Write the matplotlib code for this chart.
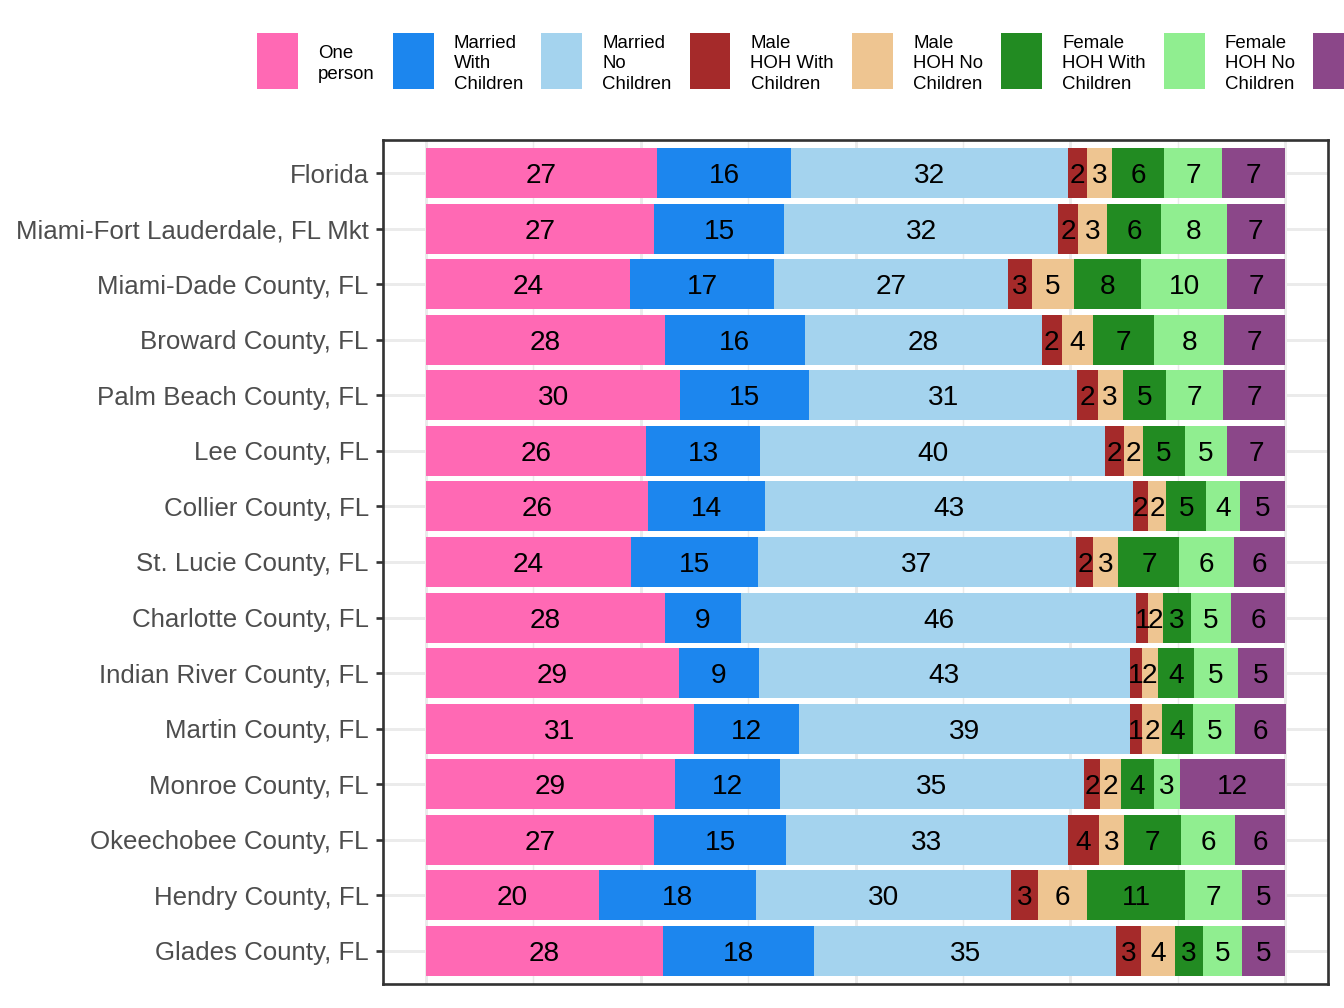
import matplotlib
matplotlib.use("Agg")
import matplotlib.pyplot as plt
from matplotlib.patches import Rectangle
import numpy as np

plt.rcParams['font.family'] = ['Liberation Sans', 'DejaVu Sans']

# areas, top to bottom
areas = ["Florida", "Miami-Fort Lauderdale, FL Mkt", "Miami-Dade County, FL",
         "Broward County, FL", "Palm Beach County, FL", "Lee County, FL",
         "Collier County, FL", "St. Lucie County, FL", "Charlotte County, FL",
         "Indian River County, FL", "Martin County, FL", "Monroe County, FL",
         "Okeechobee County, FL", "Hendry County, FL", "Glades County, FL"]

household_types = ["One\nperson", "Married\nWith\nChildren", "Married\nNo\nChildren",
                   "Male\nHOH With\nChildren", "Male\nHOH No\nChildren",
                   "Female\nHOH With\nChildren", "Female\nHOH No\nChildren",
                   "Non-family\nHousehold"]
colors = ["#FF69B4", "#1C86EE", "#A4D3EE", "#A52A2A",
          "#EEC591", "#228B22", "#90EE90", "#8B4789"]

# percent of households
one_person    = [26.9, 26.6, 23.8, 27.8, 29.6, 25.6, 25.8, 23.9, 27.8, 29.4, 31.2, 29.0, 26.6, 20.1, 27.6]
married_kids  = [15.6, 15.1, 16.7, 16.3, 15.0, 13.3, 13.7, 14.7, 8.9, 9.4, 12.2, 12.2, 15.3, 18.3, 17.6]
married_nokid = [32.2, 31.9, 27.3, 27.6, 31.2, 40.2, 42.8, 37.1, 46.0, 43.1, 38.6, 35.4, 32.8, 29.7, 35.1]
male_kids     = [2.2, 2.3, 2.7, 2.3, 2.4, 2.1, 1.7, 2.0, 1.4, 1.4, 1.3, 1.9, 3.7, 3.1, 2.9]
male_nokid    = [3.0, 3.4, 4.9, 3.6, 2.9, 2.3, 2.2, 2.9, 1.7, 1.9, 2.4, 2.4, 2.9, 5.8, 4.0]
female_kids   = [6.0, 6.3, 7.8, 7.2, 5.1, 4.8, 4.6, 7.1, 3.2, 4.2, 3.6, 3.8, 6.6, 11.4, 3.2]
female_nokid  = [6.8, 7.6, 10.1, 8.1, 6.6, 5.0, 4.0, 6.4, 4.7, 5.1, 4.9, 3.1, 6.3, 6.6, 4.6]
other         = [7.3, 6.8, 6.7, 7.1, 7.2, 6.7, 5.2, 5.9, 6.3, 5.4, 5.9, 12.2, 5.8, 5.0, 5.0]

series = [one_person, married_kids, married_nokid, male_kids,
          male_nokid, female_kids, female_nokid, other]

W, H = 1344, 1008
fig = plt.figure(figsize=(7, 5.25), dpi=192)
ax = fig.add_axes([383 / W, 24 / H, 945 / W, 844 / H])

y = np.arange(len(areas))
left = np.zeros(len(areas))
for vals, col in zip(series, colors):
    vals = np.array(vals)
    bars = ax.barh(y, vals, left=left, height=0.9, color=col, linewidth=0, zorder=2)
    texts = ax.bar_label(bars, labels=[f"{v:.0f}" for v in vals], label_type='center',
                         fontsize=10.5, color='black')
    for t in texts:
        t.set_va('center_baseline')
    left += vals

ax.set_xlim(-5, 105)
ax.set_ylim(len(areas) - 0.4, -0.6)
ax.set_yticks(y, areas)
ax.set_xticks([0, 25, 50, 75, 100])
ax.set_xticks([12.5, 37.5, 62.5, 87.5], minor=True)
ax.set_axisbelow(True)
ax.grid(True, which='major', color='#EBEBEB', linewidth=1.1)
ax.grid(True, which='minor', axis='x', color='#EBEBEB', linewidth=0.55)
ax.tick_params(axis='x', which='both', bottom=False, labelbottom=False)
ax.tick_params(axis='y', which='both', left=True, length=2.75, width=1.0,
               color='#333333', labelcolor='#4D4D4D', labelsize=9.7, pad=2.6)
ax.tick_params(axis='y', which='minor', left=False)
for s in ax.spines.values():
    s.set_color('#333333')
    s.set_linewidth(1.0)

# legend along the top, laid out by hand (runs off the right edge like the original)
renderer = fig.canvas.get_renderer()
x = 257
key_w, key_h, key_top = 41, 56, 33
for lab, col in zip(household_types, colors):
    fig.add_artist(Rectangle((x / W, 1 - (key_top + key_h) / H), key_w / W, key_h / H,
                             transform=fig.transFigure, facecolor=col, edgecolor='none'))
    tx = x + key_w + 20
    if tx > W:
        break
    t = fig.text(tx / W, 1 - (key_top + key_h / 2 + 3) / H, lab, fontsize=7,
                 va='center', ha='left', color='black', linespacing=1.3)
    x = tx + t.get_window_extent(renderer).width + 18

fig.savefig("out.png", dpi=192)
